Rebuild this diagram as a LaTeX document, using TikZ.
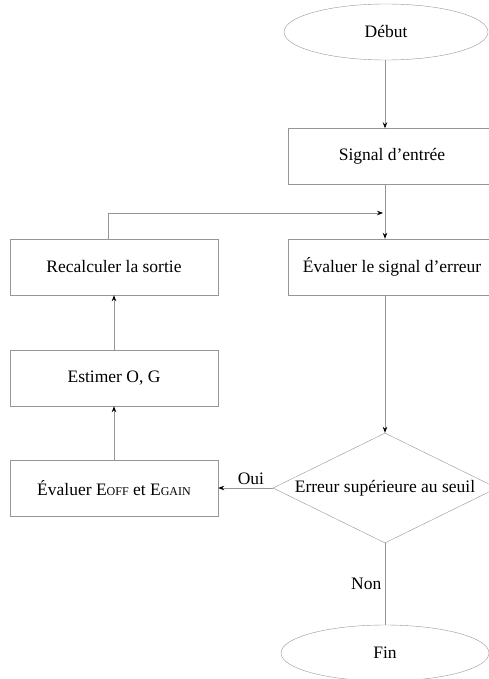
\documentclass[tikz,border=0pt]{standalone}
\usepackage{fontspec}
\setmainfont{Liberation Serif}
\usepackage{xcolor}
\usetikzlibrary{shapes.geometric, arrows.meta, positioning}

\definecolor{linegray}{RGB}{150,150,150}
\newcommand{\smcap}[1]{{\fontsize{12}{14}\selectfont #1}}

\begin{document}
\begin{tikzpicture}[
    x=1pt, y=-1pt,
    every node/.style={font=\fontsize{17.5}{20}\selectfont},
    box/.style={draw=linegray, rectangle, minimum height=56pt,
      minimum width=208pt, align=center},
    termnode/.style={draw=linegray, shape=ellipse, minimum height=56pt,
      minimum width=204pt, align=center},
    decisionnode/.style={draw=linegray, shape=diamond, aspect=2, inner sep=0pt,
      minimum width=224pt, minimum height=110pt, align=center},
    arrow/.style={draw=linegray, line width=0.8pt,
      -{Stealth[black, length=6pt, width=4.5pt]}},
    line/.style={draw=linegray, line width=0.8pt}
]
\clip (0,0) rectangle (489,679);

% right column
\node (start) [termnode] at (386,32) {Début};
\node (input) [box] at (392,156.5) {Signal d'entrée};
\node (eval) [box] at (392,267) {Évaluer le signal d'erreur};
\node (check) [decisionnode] at (385,488) {Erreur supérieure au seuil};
\node (stop) [termnode, minimum width=208pt] at (385,653) {Fin};

% left column
\node (recalc) [box] at (114,267) {Recalculer la sortie};
\node (estim) [box] at (114,378) {Estimer O, G};
\node (errors) [box] at (114,488) {Évaluer E\smcap{OFF} et E\smcap{GAIN}};

\coordinate (loop) at (108,213);
\coordinate (join) at (383,213);

\draw[arrow] (start.south -| check) -- (input.north -| check);
\draw[arrow] (input.south -| check) -- (eval.north -| check);
\draw[arrow] (eval.south -| check) -- (check);
\draw[arrow] (check) -- node[above, pos=0.4, text=black] {Oui} (errors);
\draw[line] (check) -- node[left, text=black] {Non} (stop);
\draw[arrow] (errors) -- (estim);
\draw[arrow] (estim) -- (recalc);
\draw[arrow] (recalc.north -| loop) -- (loop) -- (join);
\end{tikzpicture}
\end{document}
